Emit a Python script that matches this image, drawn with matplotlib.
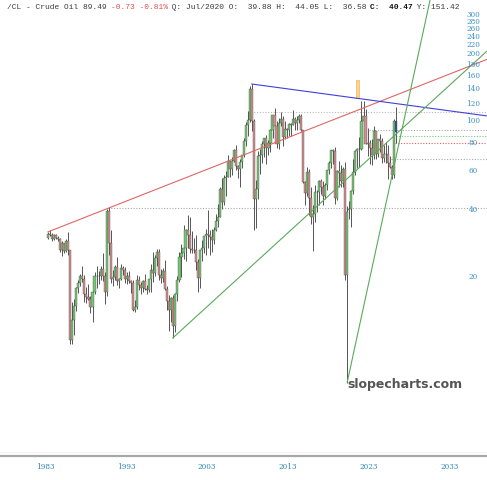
import matplotlib
matplotlib.use("Agg")
import matplotlib.pyplot as plt
import numpy as np

# ---------------- data (quarterly OHLC, from 1983 Q2) ----------------
start_year = 1983
start_q = 2
ohlc = [
    # 1983
    (29.8, 31.9, 29.6, 31.3), (31.3, 32.4, 30.7, 30.9), (30.9, 31.5, 29.1, 29.6),
    # 1984
    (29.6, 31.1, 29.2, 30.9), (30.9, 31.3, 29.7, 29.9), (29.9, 30.4, 28.9, 29.6), (29.6, 29.8, 26.0, 26.4),
    # 1985
    (26.4, 28.9, 24.9, 28.3), (28.3, 28.5, 25.6, 26.2), (26.2, 29.6, 25.8, 29.1), (29.1, 31.8, 25.1, 26.3),
    # 1986
    (26.3, 26.5, 10.0, 10.4), (10.4, 15.4, 10.0, 12.8), (12.8, 16.0, 11.0, 14.8), (14.8, 18.0, 14.0, 17.9),
    # 1987
    (17.9, 19.4, 16.9, 18.8), (18.8, 20.6, 18.3, 20.3), (20.3, 22.3, 19.0, 19.6), (19.6, 20.4, 15.5, 16.7),
    # 1988
    (16.7, 18.0, 15.2, 16.3), (16.3, 18.5, 15.8, 16.0), (16.0, 16.4, 13.8, 14.7), (14.7, 17.6, 12.6, 17.2),
    # 1989
    (17.2, 21.0, 16.8, 20.3), (20.3, 22.5, 17.8, 20.3), (20.3, 21.2, 18.5, 20.1), (20.1, 22.5, 19.4, 21.8),
    # 1990
    (21.8, 25.5, 19.2, 20.3), (20.3, 21.0, 15.1, 17.1), (17.1, 40.4, 16.4, 39.5), (39.5, 41.2, 25.0, 28.4),
    # 1991
    (28.4, 32.5, 18.7, 19.6), (19.6, 21.6, 18.3, 19.9), (19.9, 22.6, 19.4, 22.2), (22.2, 24.5, 18.4, 19.1),
    # 1992
    (19.1, 19.8, 17.9, 19.5), (19.5, 22.9, 19.3, 21.9), (21.9, 22.3, 20.5, 21.6), (21.6, 22.2, 18.7, 19.5),
    # 1993
    (19.5, 21.0, 18.6, 20.3), (20.3, 21.3, 18.8, 19.1), (19.1, 19.3, 16.9, 18.7), (18.7, 19.3, 14.0, 14.2),
    # 1994
    (14.2, 15.8, 13.9, 14.7), (14.7, 20.4, 14.4, 19.4), (19.4, 20.3, 17.4, 18.4), (18.4, 18.9, 16.7, 17.8),
    # 1995
    (17.8, 19.3, 17.1, 19.2), (19.2, 20.7, 17.4, 17.6), (17.6, 18.4, 16.7, 17.5), (17.5, 19.6, 17.1, 19.5),
    # 1996
    (19.5, 22.9, 17.1, 21.5), (21.5, 25.9, 19.0, 20.9), (20.9, 25.2, 20.2, 24.4), (24.4, 26.6, 22.3, 25.9),
    # 1997
    (25.9, 26.6, 19.4, 20.4), (20.4, 21.8, 18.7, 19.8), (19.8, 21.9, 19.0, 21.2), (21.2, 23.8, 17.4, 17.6),
    # 1998
    (17.6, 18.2, 14.2, 15.6), (15.6, 16.6, 11.4, 14.2), (14.2, 16.3, 12.5, 16.1), (16.1, 16.6, 10.6, 12.1),
    # 1999
    (12.1, 17.0, 11.3, 16.8), (16.8, 20.3, 15.6, 19.3), (19.3, 25.8, 19.0, 24.5), (24.5, 28.0, 20.0, 25.6),
    # 2000
    (25.6, 34.4, 24.0, 26.9), (26.9, 33.0, 23.7, 32.5), (32.5, 37.8, 27.0, 30.8), (30.8, 37.0, 25.7, 26.8),
    # 2001
    (26.8, 32.2, 25.5, 26.3), (26.3, 30.0, 25.6, 26.3), (26.3, 31.0, 21.6, 23.4), (23.4, 24.0, 17.1, 19.8),
    # 2002
    (19.8, 26.5, 17.9, 26.3), (26.3, 29.4, 23.5, 26.9), (26.9, 30.7, 25.7, 30.5), (30.5, 32.7, 25.0, 31.2),
    # 2003
    (31.2, 39.9, 27.0, 31.0), (31.0, 32.5, 25.0, 30.2), (30.2, 33.0, 26.0, 29.2), (29.2, 33.7, 28.2, 32.5),
    # 2004
    (32.5, 38.5, 32.2, 35.8), (35.8, 42.5, 33.5, 37.1), (37.1, 50.5, 37.2, 49.6), (49.6, 55.7, 40.3, 43.5),
    # 2005
    (43.5, 57.6, 42.1, 55.4), (55.4, 60.0, 46.2, 56.5), (56.5, 70.9, 56.0, 66.2), (66.2, 66.6, 56.1, 61.0),
    # 2006
    (61.0, 69.2, 57.6, 66.6), (66.6, 75.4, 66.0, 74.0), (74.0, 78.4, 60.5, 62.9), (62.9, 63.9, 55.9, 61.1),
    # 2007
    (61.1, 68.1, 50.5, 65.9), (65.9, 70.7, 61.9, 70.7), (70.7, 83.9, 69.1, 81.7), (81.7, 99.3, 77.8, 96.0),
    # 2008
    (96.0, 111.8, 86.1, 101.6), (101.6, 143.7, 99.6, 140.0), (140.0, 147.3, 90.5, 100.6), (100.6, 102.5, 32.4, 44.6),
    # 2009
    (44.6, 54.7, 33.2, 49.7), (49.7, 73.4, 45.0, 69.9), (69.9, 75.0, 58.3, 70.6), (70.6, 82.0, 65.1, 79.4),
    # 2010
    (79.4, 84.0, 69.5, 83.8), (83.8, 87.2, 64.2, 75.6), (75.6, 82.9, 70.8, 79.9), (79.9, 92.1, 72.6, 91.4),
    # 2011
    (91.4, 107.0, 83.9, 106.7), (106.7, 114.8, 90.6, 95.4), (95.4, 100.6, 75.7, 79.2), (79.2, 103.4, 74.9, 98.8),
    # 2012
    (98.8, 110.6, 95.4, 103.0), (103.0, 106.0, 77.3, 85.0), (85.0, 100.4, 83.1, 92.2), (92.2, 93.0, 84.1, 91.8),
    # 2013
    (91.8, 98.2, 86.1, 97.2), (97.2, 98.2, 86.1, 96.6), (96.6, 112.2, 96.1, 102.3), (102.3, 104.5, 91.8, 98.4),
    # 2014
    (98.4, 105.2, 91.2, 101.6), (101.6, 107.7, 98.2, 105.4), (105.4, 107.5, 90.4, 91.2), (91.2, 91.6, 52.7, 53.3),
    # 2015
    (53.3, 54.2, 42.0, 47.6), (47.6, 62.6, 46.3, 59.5), (59.5, 61.1, 37.8, 45.1), (45.1, 50.9, 34.5, 37.0),
    # 2016
    (37.0, 41.9, 26.1, 38.3), (38.3, 51.7, 35.2, 48.3), (48.3, 49.0, 39.2, 48.2), (48.2, 54.5, 42.2, 53.7),
    # 2017
    (53.7, 55.2, 47.1, 50.6), (50.6, 53.8, 42.1, 46.0), (46.0, 52.9, 44.8, 51.7), (51.7, 60.5, 49.1, 60.4),
    # 2018
    (60.4, 66.7, 58.1, 64.9), (64.9, 74.5, 61.8, 74.2), (74.2, 75.3, 64.4, 73.3), (73.3, 76.9, 42.4, 45.4),
    # 2019
    (45.4, 60.7, 44.4, 60.1), (60.1, 66.6, 50.6, 58.5), (58.5, 63.4, 50.5, 54.1), (54.1, 62.3, 50.9, 61.1),
    # 2020
    (61.1, 65.7, 19.3, 20.5), (20.5, 41.6, 6.7, 39.3), (39.88, 44.05, 36.58, 40.47), (40.5, 49.4, 33.6, 48.5),
    # 2021
    (48.5, 68.0, 47.2, 59.2), (59.2, 74.0, 57.3, 73.5), (73.5, 76.0, 61.7, 75.0), (75.0, 85.4, 62.4, 75.2),
    # 2022
    (75.2, 123.0, 74.3, 100.3), (100.3, 123.7, 92.9, 105.8), (105.8, 114.1, 79.2, 79.5), (79.5, 93.6, 70.1, 80.3),
    # 2023
    (80.3, 82.7, 64.4, 75.7), (75.7, 83.5, 63.6, 70.6), (70.6, 95.0, 67.7, 90.8), (90.8, 90.9, 67.7, 71.7),
    # 2024
    (71.7, 83.1, 69.3, 83.2), (83.2, 87.7, 72.5, 81.5), (81.5, 84.5, 65.3, 68.2), (68.2, 78.0, 66.0, 71.7),
    # 2025
    (71.7, 80.8, 65.2, 71.5), (71.5, 78.4, 55.1, 65.1), (65.1, 70.0, 61.5, 62.4), (62.4, 63.5, 55.0, 57.4),
    # 2026
    (57.4, 102.0, 55.5, 100.5), (100.5, 116.0, 80.0, 89.49),
]
opens = [r[0] for r in ohlc]
highs = [r[1] for r in ohlc]
lows = [r[2] for r in ohlc]
closes = [r[3] for r in ohlc]

ytick_values = [20, 40, 60, 80, 100, 120, 140, 160, 180, 200, 220, 240, 260, 280, 300]
xtick_years = [1983, 1993, 2003, 2013, 2023, 2033]

# trend lines: (year0, value0, year1, value1)
red_line = (1983.3, 31.8, 2037.64, 190.0)
blue_line = (2008.5, 147.3, 2037.64, 105.8)
green_line1 = (1998.75, 10.6, 2037.64, 207.0)
green_line2 = (2020.35, 6.7, 2030.6, 351.0)
# horizontal dotted levels: (start year, value, colour)
levels = [
    (1990.8, 41.0, "#aaaaaa"),
    (2008.5, 110.2, "#bbbbbb"),
    (2023.0, 91.2, "#aaaaaa"),
    (2026.0, 86.0, "#77cc77"),
    (2026.3, 80.0, "#e06060"),
    (2025.8, 67.9, "#aaaaaa"),
]

# ---------------- figure ----------------
W, H = 487, 480
fig = plt.figure(figsize=(W / 100, H / 100), dpi=100)
ax_bottom_px = 452
ax = fig.add_axes([0, (H - ax_bottom_px) / H, 1, ax_bottom_px / H])
ax.set_yscale("log")
XMIN, XMAX = 1977.44, 2037.64
YMIN, YMAX = 3.27, 351.0
ax.set_xlim(XMIN, XMAX)
ax.set_ylim(YMIN, YMAX)
for s in ax.spines.values():
    s.set_visible(False)
ax.set_xticks([])
ax.set_yticks([])
ax.minorticks_off()

n = len(ohlc)
t = []
for i in range(n):
    qi = (start_q - 1) + i
    t.append(start_year + qi // 4 + (qi % 4) * 0.25 + 0.125)
t = np.array(t)
o = np.array(opens); h = np.array(highs); l = np.array(lows); c = np.array(closes)

GREEN = "#74c674"
RED = "#d28e8e"
EDGE = "#444444"
cols = [GREEN if cc >= oo else RED for oo, cc in zip(o, c)]
cols[-1] = "#2f4fa8"

# horizontal levels
for x0, v, col in levels:
    ax.plot([x0, XMAX], [v, v], color=col, lw=0.8, ls=(0, (1, 1.5)), zorder=1)

# wicks
ax.vlines(t, l, h, color="#555555", lw=0.7, zorder=2)
# bodies
bot = np.minimum(o, c)
top = np.maximum(o, c)
ax.bar(t, top - bot, bottom=bot, width=0.26, color=cols, edgecolor=EDGE, linewidth=0.25, zorder=3)

def draw_line(spec, col):
    x0, v0, x1, v1 = spec
    ax.plot([x0, x1], [v0, v1], color=col, lw=0.8, zorder=4, solid_capstyle="butt")

draw_line(red_line, "#e06666")
draw_line(blue_line, "#4040d8")
draw_line(green_line1, "#5aaa5a")
draw_line(green_line2, "#5aaa5a")

# orange marker near 2022 peak
ax.bar([2021.62], [153 - 128], bottom=[128], width=0.35, color="#f8d58f", edgecolor="#f0b858",
       linewidth=0.5, zorder=3)

# y tick labels (inside, right)
TICKC = "#3b8fc4"
for v in ytick_values:
    ax.text(473 / W, v, str(v), transform=ax.get_yaxis_transform(), ha="center", va="center",
            fontsize=5.2, family="DejaVu Serif", color=TICKC, zorder=5)

# watermark
ax.text(2020.4, 6.6, "slopecharts.com", ha="left", va="center",
        fontsize=9.0, fontweight="bold", color="#555555", family="DejaVu Sans", zorder=6)

# separator and x labels
fig.add_artist(plt.Line2D([0, 1], [1 - 451.5 / H, 1 - 451.5 / H], color="#eeeeee", lw=0.6))
fig.add_artist(plt.Line2D([0, 1], [1 - 455.5 / H, 1 - 455.5 / H], color="#a8a8a8", lw=1.6))
for yr in xtick_years:
    xf = (yr - XMIN) / (XMAX - XMIN)
    fig.text(xf, 1 - 467 / H, str(yr), ha="center", va="center", fontsize=5.2,
             family="DejaVu Serif", color="#2f86b0")

# title (monospace, in segments)
segments = [
    ("/CL - Crude Oil 89.49 ", "#3a3a3a", "normal"),
    ("-0.73 -0.81%", "#e05050", "normal"),
    (" Q: Jul/2020 O:  39.88 H:  44.05 L:  36.58 ", "#3a3a3a", "normal"),
    ("C:  40.47", "#111111", "bold"),
    (" Y: 151.42", "#3a3a3a", "normal"),
]
cw = 4.71
fs = cw / 0.6 * 72 / 100
idx = 0
for txt, col, wt in segments:
    fig.text((7 + idx * cw) / W, 1 - 7.5 / H, txt, ha="left", va="center", fontsize=fs,
             family="Liberation Mono", color=col, fontweight=wt)
    idx += len(txt)

fig.savefig("out.png", dpi=100, facecolor="white")
